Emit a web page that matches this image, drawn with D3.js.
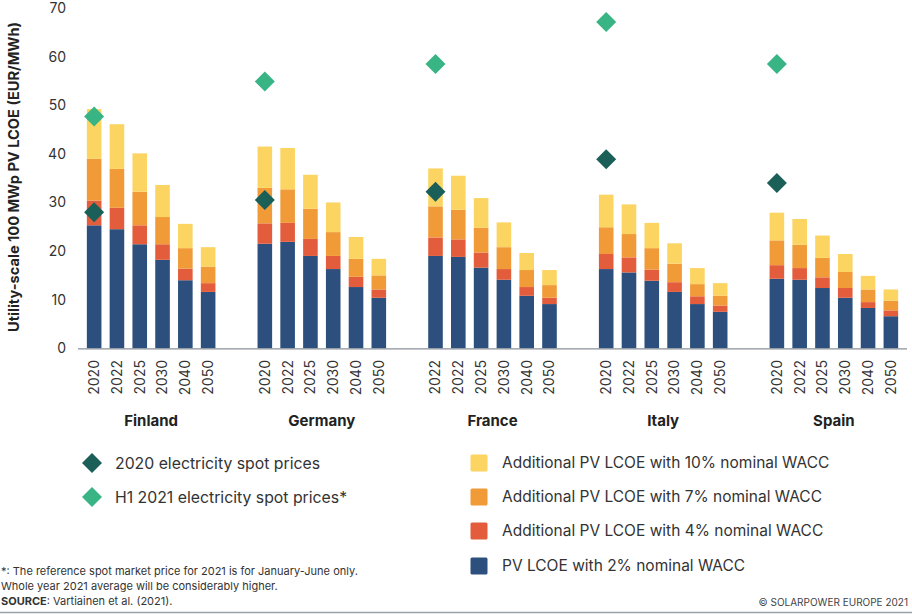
<!DOCTYPE html>
<html><head><meta charset="utf-8">
<script src="https://cdn.jsdelivr.net/npm/d3@7/dist/d3.min.js"></script>
<style>
html,body{margin:0;padding:0;background:#fff;}
svg{display:block;font-family:Inter,"Open Sans",sans-serif;}
</style></head><body>
<svg id="chart" width="912" height="614"></svg>
<script>
const countries = ["Finland","Germany","France","Italy","Spain"];
const yearLabels = [
  ["2020","2022","2025","2030","2040","2050"],
  ["2020","2022","2025","2030","2040","2050"],
  ["2022","2022","2025","2030","2040","2050"],
  ["2020","2022","2025","2030","2040","2050"],
  ["2020","2022","2025","2030","2040","2050"]
];
// PV LCOE with 2% nominal WACC
const lcoe2 = [
  [25.3,24.5,21.4,18.2,14.0,11.6],
  [21.5,21.9,19.0,16.3,12.6,10.4],
  [19.0,18.8,16.6,14.1,10.8,9.1],
  [16.3,15.6,13.9,11.6,9.1,7.5],
  [14.3,14.1,12.4,10.4,8.3,6.6]
];
// Additional PV LCOE with 4% nominal WACC
const add4 = [
  [5.1,4.4,3.9,3.2,2.4,1.8],
  [4.2,3.9,3.5,2.7,2.1,1.7],
  [3.8,3.6,3.1,2.2,1.8,1.3],
  [3.1,3.1,2.3,2.0,1.6,1.3],
  [2.8,2.4,2.2,2.0,1.2,1.2]
];
// Additional PV LCOE with 7% nominal WACC
const add7 = [
  [8.6,8.0,6.9,5.6,4.2,3.4],
  [7.3,6.9,6.2,4.9,3.7,2.9],
  [6.4,6.1,5.1,4.5,3.5,2.6],
  [5.5,4.8,4.4,3.8,2.5,2.0],
  [5.1,4.8,4.0,3.3,2.6,2.0]
];
// Additional PV LCOE with 10% nominal WACC
const add10 = [
  [10.2,9.2,7.9,6.6,5.0,4.0],
  [8.5,8.5,7.0,6.1,4.5,3.4],
  [7.8,7.0,6.1,5.1,3.5,3.1],
  [6.7,6.1,5.2,4.2,3.3,2.6],
  [5.7,5.3,4.6,3.7,2.8,2.3]
];
const spot2020 = [28.0,30.5,32.2,38.9,34.0];
const spotH12021 = [47.7,54.9,58.5,67.1,58.5];
const yTicks = [0,10,20,30,40,50,60,70];

const seriesKeys = ["lcoe2","add4","add7","add10"];
const seriesNames = {
  add10:"Additional PV LCOE with 10% nominal WACC",
  add7:"Additional PV LCOE with 7% nominal WACC",
  add4:"Additional PV LCOE with 4% nominal WACC",
  lcoe2:"PV LCOE with 2% nominal WACC"
};
const colors = {lcoe2:"#2c4f7d", add4:"#e35c3c", add7:"#f09a38", add10:"#fcd462"};
const darkDiamond = "#1b5f59", lightDiamond = "#38b485";

// build table
const rows = [];
countries.forEach((c,ci)=>{
  yearLabels[ci].forEach((yl,yi)=>{
    rows.push({country:c, idx:yi, year:yl, lcoe2:lcoe2[ci][yi], add4:add4[ci][yi], add7:add7[ci][yi], add10:add10[ci][yi]});
  });
});
const stacked = d3.stack().keys(seriesKeys)(rows);

const svg = d3.select("#chart");
const y = d3.scaleLinear().domain([0,70]).range([348.3,8]);
const x0 = d3.scaleBand().domain(countries).range([78,907]).paddingInner(0.1986).paddingOuter(0.0278);
const x1 = d3.scaleBand().domain(d3.range(6)).range([0,x0.bandwidth()]).paddingInner(0.36).paddingOuter(0.18);
const bx = d => x0(d.country)+x1(d.idx);

// bars
const g = svg.append("g");
stacked.forEach(s=>{
  g.append("g").attr("fill",colors[s.key]).selectAll("rect").data(s).join("rect")
    .attr("x",d=>bx(d.data))
    .attr("width",x1.bandwidth())
    .attr("y",d=>y(d[1]))
    .attr("height",d=>y(d[0])-y(d[1]));
});

// axis line
svg.append("line").attr("x1",78).attr("x2",907).attr("y1",y(0)+0.5).attr("y2",y(0)+0.5)
  .attr("stroke","#8a8f99").attr("stroke-width",1.2);

// y ticks
svg.append("g").selectAll("text").data(yTicks).join("text")
  .attr("x",66).attr("y",d=>y(d)).attr("dy","0.35em").attr("text-anchor","end")
  .attr("font-size",14).attr("fill","#333").text(d=>d);

// y title
svg.append("text").attr("transform","translate(14,177) rotate(-90)")
  .attr("text-anchor","middle").attr("dy","0.35em").attr("font-size",14.6).attr("font-weight",700)
  .attr("fill","#222").text("Utility-scale 100 MWp PV LCOE (EUR/MWh)");

// x labels
svg.append("g").selectAll("text").data(rows).join("text")
  .attr("transform",d=>`translate(${bx(d)+x1.bandwidth()/2},360) rotate(-90)`)
  .attr("text-anchor","end").attr("dy","0.35em").attr("font-size",14).attr("fill","#333")
  .text(d=>d.year);

// country labels
svg.append("g").selectAll("text").data(countries).join("text")
  .attr("x",c=>x0(c)+x0.bandwidth()/2).attr("y",421).attr("dy","0.35em")
  .attr("text-anchor","middle").attr("font-size",15).attr("font-weight",700).attr("fill","#222")
  .text(c=>c);

// diamonds
const diamond = d3.symbol().type(d3.symbolSquare).size(200);
function drawDiamonds(vals,color){
  svg.append("g").selectAll("path").data(vals).join("path")
    .attr("d",diamond)
    .attr("transform",(v,i)=>`translate(${x0(countries[i])+x1(0)+x1.bandwidth()/2},${y(v)}) rotate(45)`)
    .attr("fill",color);
}
drawDiamonds(spotH12021,lightDiamond);
drawDiamonds(spot2020,darkDiamond);

// legend left
const legL = [{label:"2020 electricity spot prices",color:darkDiamond,y:463},{label:"H1 2021 electricity spot prices*",color:lightDiamond,y:497}];
legL.forEach(l=>{
  svg.append("path").attr("d",d3.symbol().type(d3.symbolSquare).size(200)())
    .attr("transform",`translate(92,${l.y}) rotate(45)`).attr("fill",l.color);
  svg.append("text").attr("x",115).attr("y",l.y).attr("dy","0.35em").attr("font-size",15.8).attr("fill","#333").text(l.label);
});
// legend right
const legR = ["add10","add7","add4","lcoe2"];
const legRy = [463,497,531,566];
legR.forEach((k,i)=>{
  svg.append("rect").attr("x",470.5).attr("y",legRy[i]-8.5).attr("width",17).attr("height",17).attr("rx",1.5).attr("fill",colors[k]);
  svg.append("text").attr("x",502).attr("y",legRy[i]).attr("dy","0.35em").attr("font-size",15.5).attr("fill","#333").text(seriesNames[k]);
});

// footnotes
const fn = svg.append("g").attr("font-size",11).attr("fill","#333");
fn.append("text").attr("x",1).attr("y",571).attr("dy","0.35em").text("*: The reference spot market price for 2021 is for January-June only.");
fn.append("text").attr("x",1).attr("y",586).attr("dy","0.35em").text("Whole year 2021 average will be considerably higher.");
const src = fn.append("text").attr("x",1).attr("y",601).attr("dy","0.35em");
src.append("tspan").attr("font-weight",700).text("SOURCE");
src.append("tspan").text(": Vartiainen et al. (2021).");
svg.append("text").attr("x",908).attr("y",602).attr("dy","0.35em").attr("text-anchor","end")
  .attr("font-size",10).attr("fill","#444").text("© SOLARPOWER EUROPE 2021");
svg.append("line").attr("x1",0).attr("x2",912).attr("y1",612.5).attr("y2",612.5).attr("stroke","#9aa0a8").attr("stroke-width",1.5);
</script>
</body></html>
